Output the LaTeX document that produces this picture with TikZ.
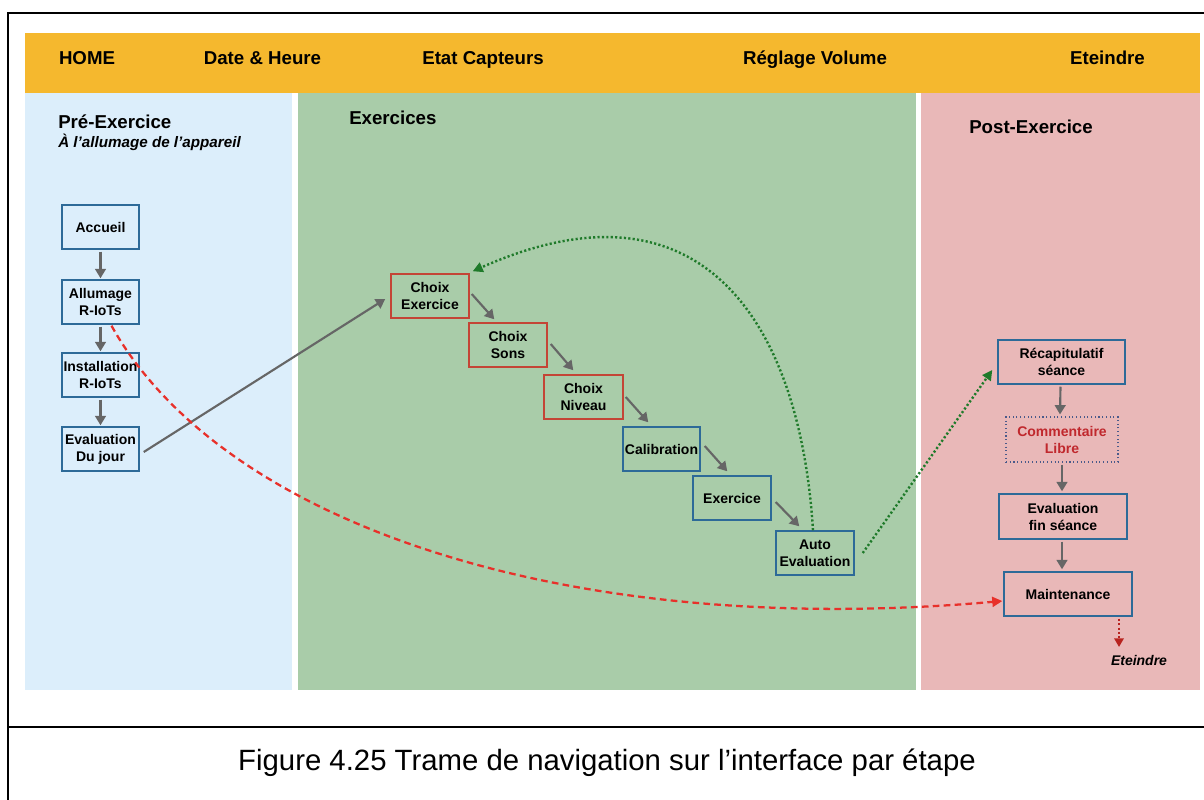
\documentclass[tikz,border=0pt]{standalone}
\usepackage{fontspec}
\setmainfont{Liberation Sans}
\usetikzlibrary{arrows.meta,calc}
\definecolor{orangebar}{HTML}{F5B82E}
\definecolor{bluepanel}{HTML}{DCEEFB}
\definecolor{greenpanel}{HTML}{A9CCA9}
\definecolor{pinkpanel}{HTML}{E9B8B8}
\definecolor{boxblue}{HTML}{2D6A98}
\definecolor{boxred}{HTML}{C44536}
\definecolor{arrgray}{HTML}{666666}
\definecolor{dashred}{HTML}{E8302A}
\definecolor{dotgreen}{HTML}{1F7A2A}
\definecolor{txtred}{HTML}{C0282D}
\definecolor{dotred}{HTML}{B8231F}
\definecolor{dotslate}{HTML}{4A5A8A}
\begin{document}
\begin{tikzpicture}[x=0.75pt,y=-0.75pt,
  hdr/.style={font=\bfseries\fontsize{14}{16}\selectfont, inner sep=0pt, anchor=base},
  sect/.style={font=\bfseries\fontsize{14}{16}\selectfont, anchor=west, inner sep=0pt},
  subsect/.style={font=\bfseries\itshape\fontsize{11.4}{13}\selectfont, anchor=west, inner sep=0pt},
  stepnode/.style={draw=boxblue, line width=1.1pt, minimum height=33pt, inner sep=0pt,
    align=center, font=\bfseries\fontsize{10.5}{12.75}\selectfont},
  redstep/.style={stepnode, draw=boxred},
  garrow/.style={draw=arrgray, line width=1.6pt, -{Triangle[length=7pt,width=8pt]}},
  reddash/.style={draw=dashred, line width=1.7pt, dash pattern=on 5pt off 3.2pt, -{Triangle[length=7.5pt,width=7.5pt]}},
  greendot/.style={draw=dotgreen, line width=1.8pt, dash pattern=on 1.6pt off 1.7pt, -{Triangle[length=7.5pt,width=7.5pt]}},
  reddot/.style={draw=dotred, line width=1.8pt, dash pattern=on 1.6pt off 1.7pt, -{Triangle[length=6.5pt,width=7pt]}},
]
\clip (0,0) rectangle (1204,800);
\fill[white] (0,0) rectangle (1204,800);
% panels
\fill[orangebar] (25,33) rectangle (1200,93);
\fill[bluepanel] (25,93) rectangle (292,690);
\fill[greenpanel] (298,93) rectangle (916,690);
\fill[pinkpanel] (921,93) rectangle (1200,690);
% frame
\draw[line width=2.2pt] (8,820) -- (8,13) -- (1220,13);
\draw[line width=2.2pt] (8,727) -- (1220,727);
% header
\node[hdr] (h1) at (87,64.7) {HOME};
\node[hdr] (h2) at (262.5,64.7) {Date \& Heure};
\node[hdr] (h3) at (483,64.7) {Etat Capteurs};
\node[hdr] (h4) at (815,64.7) {Réglage Volume};
\node[hdr] (h5) at (1107.5,64.7) {Eteindre};
% section titles
\node[sect] (s1) at (58,122) {Pré-Exercice};
\node[subsect] (s1b) at (58,142) {À l’allumage de l’appareil};
\node[sect] (s2) at (349,118) {Exercices};
\node[sect] (s3) at (969,127) {Post-Exercice};
% pre-exercise boxes
\node[stepnode, minimum width=57.75pt] (acc) at (100.5,227) {Accueil};
\node[stepnode, minimum width=57.75pt] (allum) at (100.5,302) {Allumage\\R-IoTs};
\node[stepnode, minimum width=57.75pt] (inst) at (100.5,375) {Installation\\R-IoTs};
\node[stepnode, minimum width=57.75pt] (evj) at (100.5,449) {Evaluation\\Du jour};
% exercise boxes
\node[redstep, minimum width=58.5pt] (chex) at (430,296) {Choix\\Exercice};
\node[redstep, minimum width=58.5pt] (chso) at (508,345) {Choix\\Sons};
\node[redstep, minimum width=59.25pt] (chni) at (583.5,397) {Choix\\Niveau};
\node[stepnode, minimum width=57.75pt] (cal) at (661.5,449) {Calibration};
\node[stepnode, minimum width=58.5pt] (exo) at (732,498) {Exercice};
\node[stepnode, minimum width=58.5pt] (auto) at (815,553) {Auto\\Evaluation};
% post-exercise boxes
\node[stepnode, minimum width=95.25pt] (recap) at (1061.5,362) {Récapitulatif\\séance};
\node[stepnode, draw=dotslate, line width=0.8pt, dotted, minimum width=84pt, minimum height=33.75pt,
  text=txtred] (comm) at (1062,439.5) {Commentaire\\Libre};
\node[stepnode, minimum width=96pt, minimum height=33.75pt] (evf) at (1063,516.5) {Evaluation\\fin séance};
\node[stepnode, minimum width=96pt] (maint) at (1068,594) {Maintenance};
\coordinate (off) at (1119,647);
\node[font=\bfseries\itshape\fontsize{10.5}{12}\selectfont, inner sep=0pt] (eteint) at (1139,660) {Eteindre};
% caption
\node[font=\fontsize{22}{26}\selectfont, inner sep=0pt, anchor=base] (cap) at (607,770) {Figure 4.25 Trame de navigation sur l’interface par étape};
% left column arrows
\draw[garrow] ($(acc.south)+(0,2)$) -- ($(allum.north)+(0,-1)$);
\draw[garrow] ($(allum.south)+(0,2)$) -- ($(inst.north)+(0,-1)$);
\draw[garrow] ($(inst.south)+(0,2)$) -- ($(evj.north)+(0,-1)$);
% to exercises
\draw[garrow] ($(evj.east)+(4,3)$) -- ($(chex.west)+(-5,3)$);
% staircase arrows
\draw[garrow] ($(chex.east)+(2,-2)$) -- ($(chso.north west)+(26,-3)$);
\draw[garrow] ($(chso.east)+(3,-1)$) -- ($(chni.north west)+(30,-4)$);
\draw[garrow] ($(chni.east)+(2,0)$) -- ($(cal.north west)+(26,-4)$);
\draw[garrow] ($(cal.east)+(4,-3)$) -- ($(exo.north west)+(35,-4)$);
\draw[garrow] ($(exo.east)+(4,4)$) -- ($(auto.north west)+(24,-4)$);
% post column arrows
\draw[garrow] ($(recap.south)+(-1,2)$) -- ($(comm.north)+(-2,-2)$);
\draw[garrow] ($(comm.south)+(0,2)$) -- ($(evf.north)+(-1,-2)$);
\draw[garrow] ($(evf.south)+(-1,2)$) -- ($(maint.north)+(-6,-2)$);
% loop back
\draw[greendot] ($(auto.north)+(-2,0)$) .. controls (800,320) and (700,170) .. ($(chex.north east)+(3,-2)$);
% to post
\draw[greendot] ($(auto.east)+(8,0)$) -- ($(recap.west)+(-5,8)$);
% red dashed maintenance
\draw[reddash] ($(allum.south)+(11,1)$) .. controls (220,520) and (560,640) .. ($(maint.west)+(-1,7)$);
% off
\draw[reddot] ($(maint.south)+(51,2)$) -- (off);
\end{tikzpicture}
\end{document}
